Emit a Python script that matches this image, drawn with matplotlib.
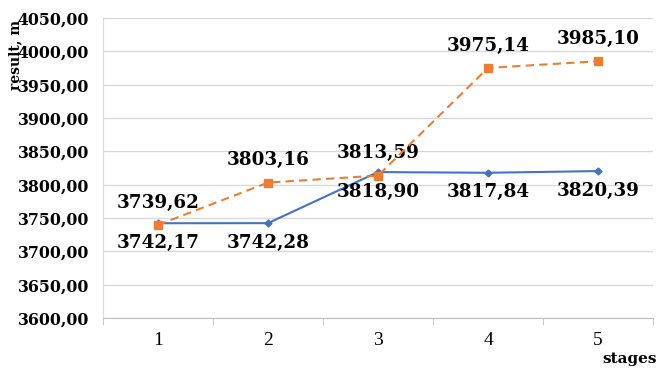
import numpy as np
import matplotlib.pyplot as plt
from matplotlib.ticker import FixedLocator, FuncFormatter

# stage results
stages = np.array([1, 2, 3, 4, 5])
series_a = np.array([3742.17, 3742.28, 3818.90, 3817.84, 3820.39])
series_b = np.array([3739.62, 3803.16, 3813.59, 3975.14, 3985.10])

plt.rcParams['font.family'] = ['DejaVu Serif']

fig = plt.figure(figsize=(6.59, 3.70), dpi=100)
ax = fig.add_axes([103 / 659, 1 - 318 / 370, 550 / 659, 300 / 370])

blue = '#4472C4'
orange = '#ED7D31'

ax.plot(stages, series_a, color=blue, linewidth=1.5,
        marker='D', markersize=3.5, zorder=3)
ax.plot(stages, series_b, color=orange, linewidth=1.5, linestyle=(0, (4, 2.5)),
        marker='s', markersize=6, zorder=4)

def fmt(v):
    return f'{v:.2f}'.replace('.', ',')

for x, y in zip(stages, series_a):
    ax.annotate(fmt(y), (x, y), xytext=(0, -14), textcoords='offset points',
                ha='center', va='center', fontsize=13.2, fontweight='bold')
for x, y in zip(stages, series_b):
    ax.annotate(fmt(y), (x, y), xytext=(0, 16), textcoords='offset points',
                ha='center', va='center', fontsize=13.2, fontweight='bold')

ax.set_xlim(0.5, 5.5)
ax.set_ylim(3600, 4050)
ax.set_yticks(np.arange(3600, 4051, 50))
ax.yaxis.set_major_formatter(FuncFormatter(lambda v, p: fmt(v)))
ax.set_xticks(stages)
ax.xaxis.set_minor_locator(FixedLocator(np.arange(0.5, 5.6, 1)))
ax.tick_params(axis='x', which='major', length=0, labelsize=12, pad=10)
ax.tick_params(axis='x', which='minor', length=5, color='#BFBFBF')
ax.tick_params(axis='y', length=0, labelsize=11.3, pad=10)
for lab in ax.get_yticklabels():
    lab.set_fontweight('bold')
for lab in ax.get_xticklabels():
    lab.set_family('Liberation Serif')
    lab.set_fontsize(14)

ax.grid(axis='y', color='#D9D9D9', linewidth=1)
ax.set_axisbelow(True)
for s in ['top', 'right']:
    ax.spines[s].set_visible(False)
ax.spines['left'].set_color('#D9D9D9')
ax.spines['bottom'].set_color('#BFBFBF')

fig.text(15 / 659, 1 - 55 / 370, 'result, m', rotation=90, ha='center',
         va='center', fontsize=10, fontweight='bold')
fig.text(630 / 659, 1 - 359 / 370, 'stages', ha='center', va='center',
         fontsize=11, fontweight='bold')

plt.savefig('out.png', dpi=100)
